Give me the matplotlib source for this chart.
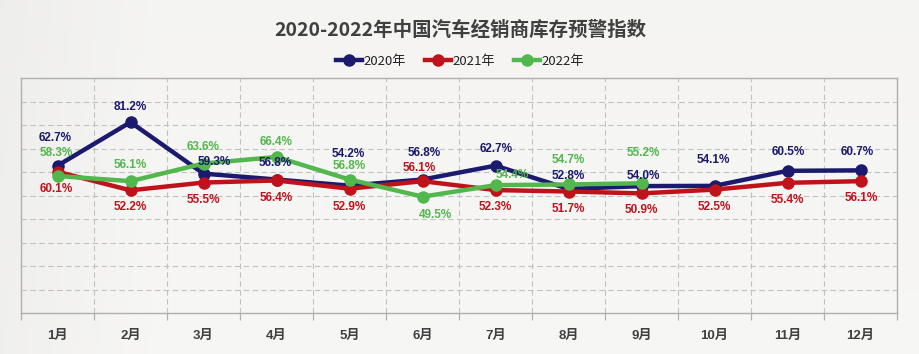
import numpy as np
import matplotlib
matplotlib.use('Agg')
import matplotlib.pyplot as plt
from matplotlib.lines import Line2D

# data
months = ['1月', '2月', '3月', '4月', '5月', '6月', '7月', '8月', '9月', '10月', '11月', '12月']
idx_2020 = [62.7, 81.2, 59.3, 56.8, 54.2, 56.8, 62.7, 52.8, 54.0, 54.1, 60.5, 60.7]
idx_2021 = [60.1, 52.2, 55.5, 56.4, 52.9, 56.1, 52.3, 51.7, 50.9, 52.5, 55.4, 56.1]
idx_2022 = [58.3, 56.1, 63.6, 66.4, 56.8, 49.5, 54.4, 54.7, 55.2]

# label offsets in pixels (dx, dy), dy positive = up
off_2020 = [(-2, 28), (0, 15), (11, 12), (-1, 17), (-1, 32), (2, 27), (1, 17), (0, 13), (2, 10), (-1, 26), (1, 19), (-3, 18)]
off_2021 = [(-1, -17), (0, -17), (0, -17), (0, -18), (0, -18), (-3, 13), (0, -17), (0, -17), (0, -17), (0, -17), (0, -17), (1, -17)]
off_2022 = [(-1, 23), (0, 16), (0, 17), (0, 15), (0, 14), (13, -18), (17, 10), (0, 24), (2, 30)]

NAVY = '#1b1a6e'
RED = '#c0121a'
GREEN = '#52b74c'
GRID = '#c2c2c2'
SPINE = '#b0b0b0'
TEXT = '#404040'

CJK = ['Noto Sans CJK SC', 'DejaVu Sans']
NUM = ['Liberation Sans', 'DejaVu Sans']

W, H = 920, 354
fig = plt.figure(figsize=(W / 100, H / 100), dpi=100)
fig.patch.set_facecolor('#f2f1ef')

# soft background shading
bg = fig.add_axes([0, 0, 1, 1])
gx = np.linspace(0, 1, 200)
gy = np.linspace(0, 1, 80)[:, None]
shade = 0.935 + 0.025 * np.clip(gx * 6, 0, 1) + 0.008 * gy
bg.imshow(np.dstack([shade, shade * 0.998, shade * 0.994]), aspect='auto', extent=[0, 1, 0, 1])
bg.axis('off')

ax = fig.add_axes([21 / W, 1 - 313 / H, (897 - 21) / W, (313 - 78) / H])
ax.set_facecolor('none')

x = np.arange(len(months))
ax.set_xlim(-0.5, len(months) - 0.5)
ax.set_ylim(0, 100)

series = [
    (idx_2020, off_2020, NAVY, 3),
    (idx_2021, off_2021, RED, 4),
    (idx_2022, off_2022, GREEN, 5),
]
for vals, offs, col, z in series:
    xs = x[:len(vals)]
    ax.plot(xs, vals, color=col, lw=3.2, marker='o', ms=8, zorder=z, solid_capstyle='round')
    for xi, v, (dx, dy) in zip(xs, vals, offs):
        ax.annotate(f'{v:.1f}%', (xi, v), xytext=(dx * 0.72, dy * 0.72), textcoords='offset points',
                    ha='center', va='center', color=col, fontsize=8.5, fontweight='bold',
                    family=NUM, zorder=10)

# grid
ax.set_yticks(np.arange(0, 101, 10))
ax.set_yticklabels([])
ax.tick_params(axis='y', length=0)
ax.yaxis.grid(True, color=GRID, ls=(0, (5, 3)), lw=0.8)
ax.set_xticks(x)
ax.set_xticklabels(months, fontsize=9.5, fontweight='bold', color=TEXT, family=['Liberation Sans', 'Noto Sans CJK SC'])
ax.tick_params(axis='x', length=0, pad=12)
ax.set_xticks(np.arange(-0.5, len(months)), minor=True)
ax.tick_params(axis='x', which='minor', length=5, color=SPINE, width=0.9)
ax.xaxis.grid(True, which='minor', color=GRID, ls=(0, (5, 3)), lw=0.8)
ax.set_axisbelow(True)
for s in ax.spines.values():
    s.set_color(SPINE)
    s.set_linewidth(1.0)

fig.text(0.5, 1 - 30 / H, '2020-2022年中国汽车经销商库存预警指数', ha='center', va='center',
         fontsize=14, fontweight='bold', color=TEXT, family=CJK)

handles = [Line2D([], [], color=c, lw=3.2, marker='o', ms=8) for c in (NAVY, RED, GREEN)]
fig.legend(handles, ['2020年', '2021年', '2022年'], loc='center', bbox_to_anchor=(0.5, 1 - 61 / H),
           ncol=3, frameon=False, handlelength=2.0, handletextpad=0.1, columnspacing=1.4,
           prop={'family': CJK, 'size': 9.5}, labelcolor='#222222')

fig.savefig('out.png', dpi=100, facecolor=fig.get_facecolor())
